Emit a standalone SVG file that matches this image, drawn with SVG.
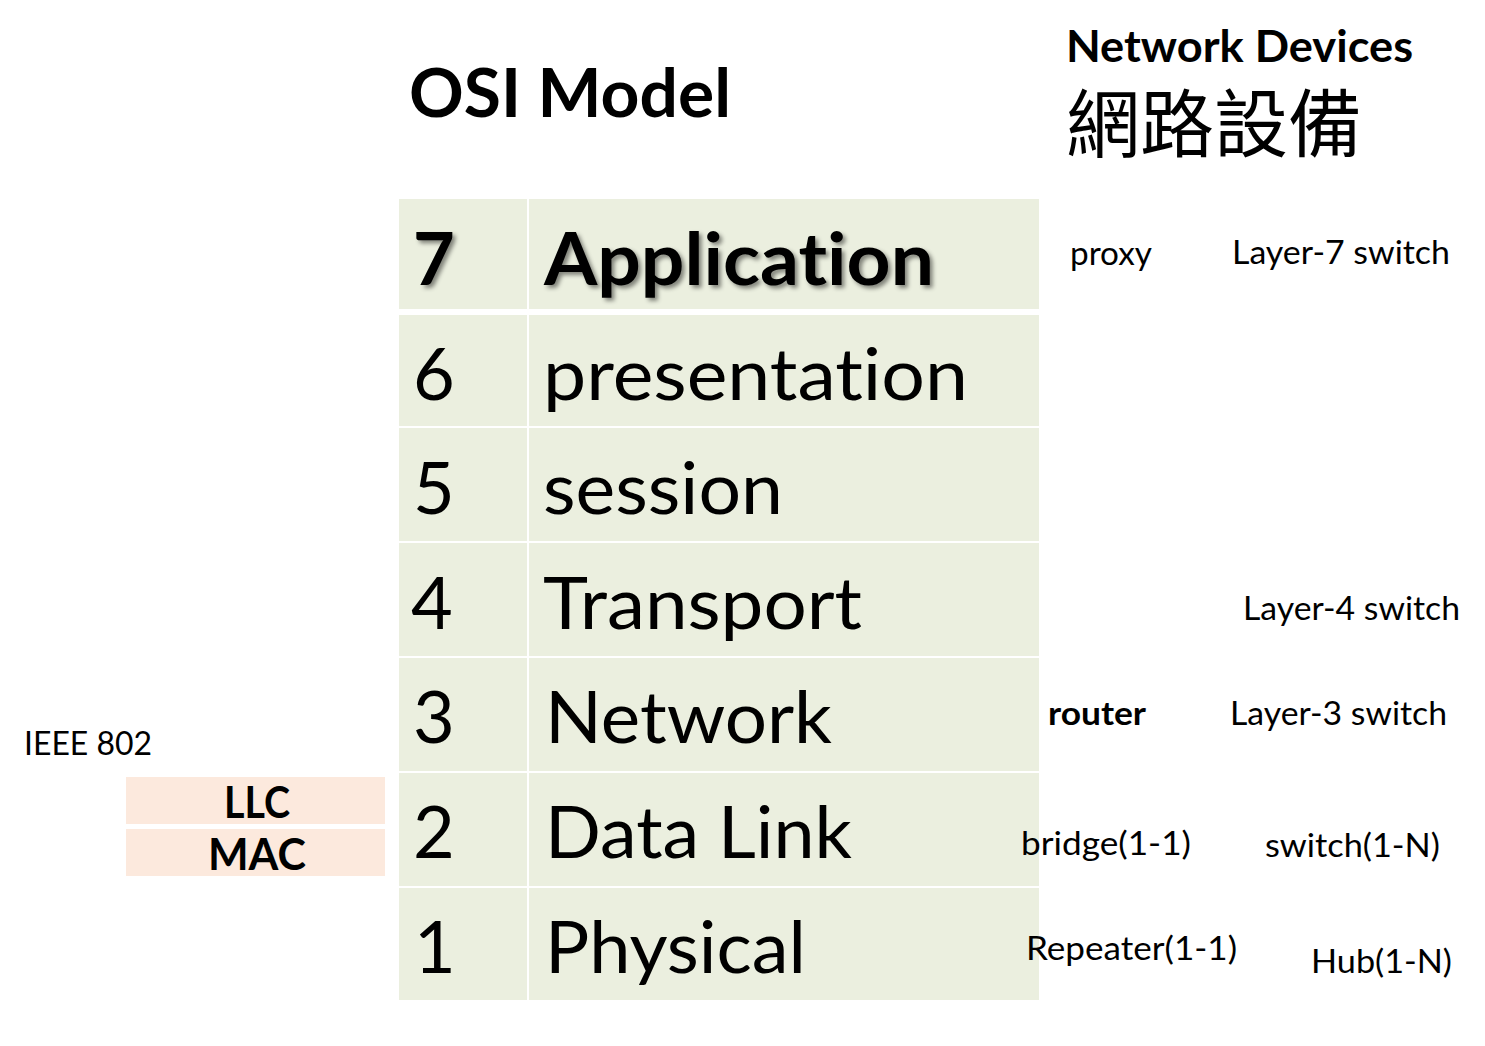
<svg xmlns="http://www.w3.org/2000/svg" width="1485" height="1046" viewBox="0 0 1485 1046">
<defs>
<style>
text{font-family:Lato,"Open Sans","Noto Sans",sans-serif;fill:#000;font-variant-ligatures:none}
.cell{fill:#EBEFDF}
.peach{fill:#FCE9DD}
.big{font-size:72px}
.lbl{font-size:33px}
.b{font-weight:bold}
.cjk{font-family:"Noto Sans CJK TC","Noto Sans CJK SC",sans-serif;font-size:74px}
</style>
<filter id="shadow" x="-10%" y="-20%" width="130%" height="150%">
<feDropShadow dx="3" dy="3" stdDeviation="2" flood-color="#000" flood-opacity="0.45"/>
</filter>
</defs>
<rect width="1485" height="1046" fill="#fff"/>

<g id="title">
<text x="409" y="117" class="b" style="font-size:67px" textLength="322" lengthAdjust="spacingAndGlyphs">OSI Model</text>
</g>
<g id="devices-title">
<text x="1066" y="62" class="b" style="font-size:44px" textLength="347" lengthAdjust="spacingAndGlyphs">Network Devices</text>
<text x="1066" y="151" class="cjk" textLength="296" lengthAdjust="spacingAndGlyphs">網路設備</text>
</g>

<g id="layer7">
<rect class="cell" x="399" y="199" width="128" height="110"/>
<rect class="cell" x="529" y="199" width="510" height="110"/>
<text x="413" y="285" class="big b" filter="url(#shadow)">7</text>
<text x="544" y="285" class="big b" filter="url(#shadow)" textLength="390" lengthAdjust="spacingAndGlyphs">Application</text>
</g>
<g id="layer6">
<rect class="cell" x="399" y="315" width="128" height="111"/>
<rect class="cell" x="529" y="315" width="510" height="111"/>
<text x="413" y="400" class="big">6</text>
<text x="543" y="400" class="big" textLength="425" lengthAdjust="spacingAndGlyphs">presentation</text>
</g>
<g id="layer5">
<rect class="cell" x="399" y="428" width="128" height="113"/>
<rect class="cell" x="529" y="428" width="510" height="113"/>
<text x="413" y="514" class="big">5</text>
<text x="543" y="514" class="big" textLength="240" lengthAdjust="spacingAndGlyphs">session</text>
</g>
<g id="layer4">
<rect class="cell" x="399" y="543" width="128" height="113"/>
<rect class="cell" x="529" y="543" width="510" height="113"/>
<text x="411" y="629" class="big">4</text>
<text x="543" y="629" class="big" textLength="319" lengthAdjust="spacingAndGlyphs">Transport</text>
</g>
<g id="layer3">
<rect class="cell" x="399" y="658" width="128" height="113"/>
<rect class="cell" x="529" y="658" width="510" height="113"/>
<text x="413" y="743" class="big">3</text>
<text x="545" y="743" class="big" textLength="287" lengthAdjust="spacingAndGlyphs">Network</text>
</g>
<g id="layer2">
<rect class="cell" x="399" y="773" width="128" height="113"/>
<rect class="cell" x="529" y="773" width="510" height="113"/>
<text x="413" y="858" class="big">2</text>
<text x="545" y="858" class="big" textLength="307" lengthAdjust="spacingAndGlyphs">Data Link</text>
</g>
<g id="layer1">
<rect class="cell" x="399" y="888" width="128" height="112"/>
<rect class="cell" x="529" y="888" width="510" height="112"/>
<text x="414" y="973" class="big">1</text>
<text x="545" y="973" class="big" textLength="261" lengthAdjust="spacingAndGlyphs">Physical</text>
</g>

<g id="ieee802">
<text x="24" y="755" class="lbl" textLength="128" lengthAdjust="spacingAndGlyphs">IEEE 802</text>
</g>
<g id="llc">
<rect class="peach" x="126" y="777" width="259" height="47"/>
<text x="224" y="818" class="b" style="font-size:43px" textLength="66" lengthAdjust="spacingAndGlyphs">LLC</text>
</g>
<g id="mac">
<rect class="peach" x="126" y="829" width="259" height="47"/>
<text x="208" y="870" class="b" style="font-size:43px" textLength="98" lengthAdjust="spacingAndGlyphs">MAC</text>
</g>

<g id="dev-proxy"><text x="1070" y="265" class="lbl" textLength="82" lengthAdjust="spacingAndGlyphs">proxy</text></g>
<g id="dev-l7"><text x="1232" y="264" class="lbl" textLength="218" lengthAdjust="spacingAndGlyphs">Layer-7 switch</text></g>
<g id="dev-l4"><text x="1243" y="620" class="lbl" textLength="217" lengthAdjust="spacingAndGlyphs">Layer-4 switch</text></g>
<g id="dev-router"><text x="1048" y="725" class="lbl b" textLength="98" lengthAdjust="spacingAndGlyphs">router</text></g>
<g id="dev-l3"><text x="1230" y="725" class="lbl" textLength="217" lengthAdjust="spacingAndGlyphs">Layer-3 switch</text></g>
<g id="dev-bridge"><text x="1021" y="855" class="lbl" textLength="170" lengthAdjust="spacingAndGlyphs">bridge(1-1)</text></g>
<g id="dev-switch"><text x="1265" y="857" class="lbl" textLength="175" lengthAdjust="spacingAndGlyphs">switch(1-N)</text></g>
<g id="dev-repeater"><text x="1026" y="960" class="lbl" textLength="211" lengthAdjust="spacingAndGlyphs">Repeater(1-1)</text></g>
<g id="dev-hub"><text x="1311" y="973" class="lbl" textLength="141" lengthAdjust="spacingAndGlyphs">Hub(1-N)</text></g>

<g id="connectors"></g>
</svg>
